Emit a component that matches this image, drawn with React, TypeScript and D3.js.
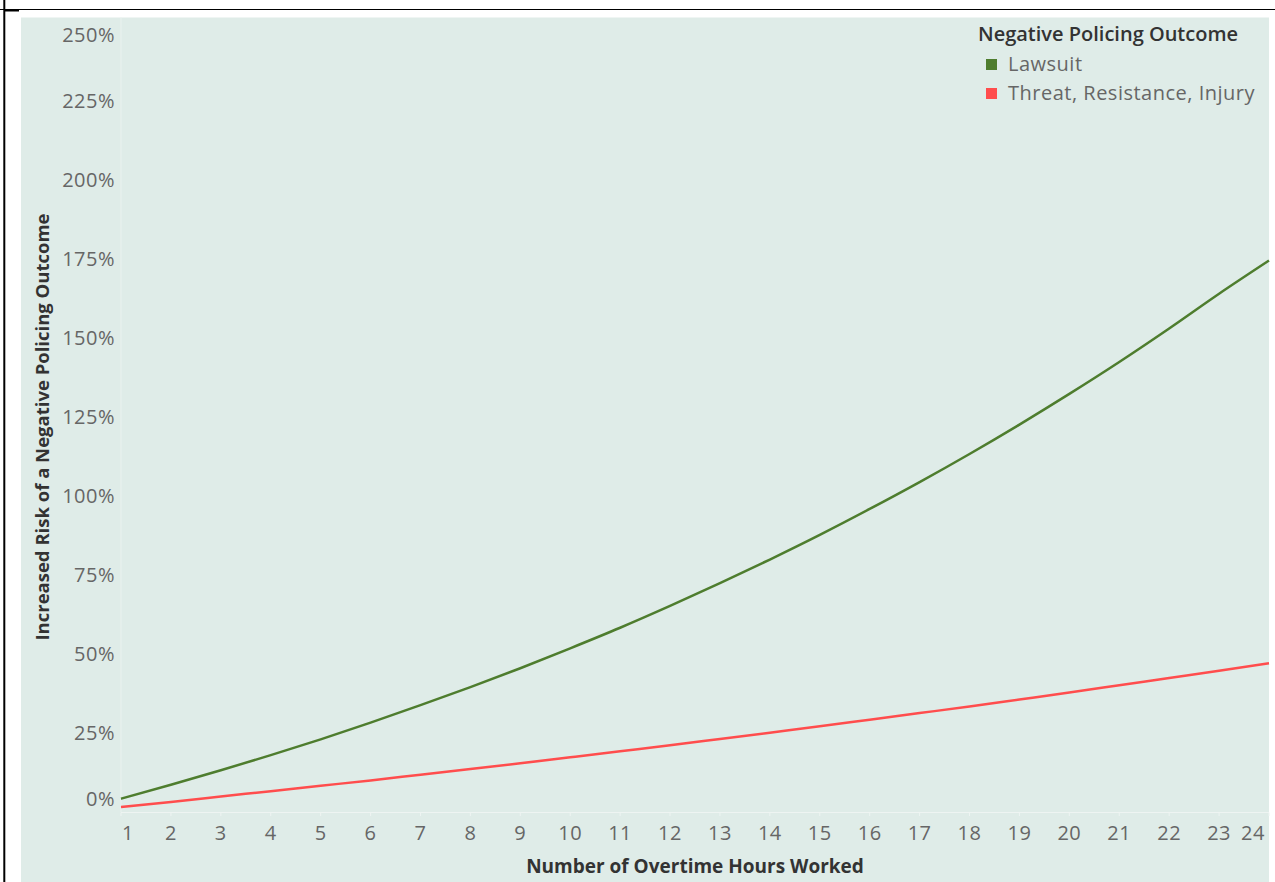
import React from "react";
import * as d3 from "d3";

const hours = [1, 2, 3, 4, 5, 6, 7, 8, 9, 10, 11, 12, 13, 14, 15, 16, 17, 18, 19, 20, 21, 22, 23, 24];
const lawsuit = [4.2, 8.6, 13.2, 18.0, 23.0, 28.3, 33.8, 39.5, 45.5, 51.8, 58.3, 65.2, 72.4, 79.9, 87.7, 95.9, 104.4, 113.3, 122.6, 132.3, 142.4, 153.0, 164.0, 174.5];
const threat = [1.6, 3.2, 4.9, 6.6, 8.3, 10.0, 11.8, 13.6, 15.4, 17.3, 19.2, 21.1, 23.1, 25.1, 27.1, 29.2, 31.3, 33.4, 35.6, 37.8, 40.1, 42.4, 44.7, 47.1];
const yTicks = [0, 25, 50, 75, 100, 125, 150, 175, 200, 225, 250];
const seriesNames = ["Lawsuit", "Threat, Resistance, Injury"];
const seriesColors = ["#4E7D2E", "#FF4D4D"];
const legendTitle = "Negative Policing Outcome";
const xTitle = "Number of Overtime Hours Worked";
const yTitle = "Increased Risk of a Negative Policing Outcome";

const W = 1275;
const H = 882;
const FONT = "'Open Sans', 'Noto Sans', sans-serif";

export default function App() {
  const x = d3.scaleLinear().domain([1, 24]).range([121, 1269]);
  const y = d3.scaleLinear().domain([0, 250]).range([812, 22]);
  const line = d3
    .line<number>()
    .x((_, i) => x(hours[i]))
    .y((d) => y(d))
    .curve(d3.curveMonotoneX);
  const series = [lawsuit, threat];

  const yLabelPos = (t: number) => {
    if (t === 0) return y(t) - 13;
    if (t === 250) return y(t) + 13;
    return y(t);
  };
  const xLabelPos = (h: number) => {
    if (h === 1) return x(h) + 7;
    if (h === 24) return x(h) - 16;
    return x(h);
  };

  return (
    <svg
      width={W}
      height={H}
      style={{ position: "absolute", left: 0, top: 0, background: "#ffffff" }}
    >
      {/* panel background */}
      <rect x={21} y={17.5} width={1248} height={H - 17.5} fill="#DFECE8" />
      {/* frame */}
      <line x1={0} x2={W} y1={9.5} y2={9.5} stroke="#000" strokeWidth={1.2} />
      <line x1={4.3} x2={4.3} y1={0} y2={H} stroke="#000" strokeWidth={2} />
      <line x1={4} x2={19} y1={10.5} y2={10.5} stroke="#000" strokeWidth={2} />

      {/* axis lines */}
      <line x1={x(1)} x2={x(1)} y1={17.5} y2={y(0)} stroke="#EAF2EF" strokeWidth={1} />
      <line x1={x(1)} x2={x(24)} y1={y(0) + 0.5} y2={y(0) + 0.5} stroke="#EEF4F2" strokeWidth={1} />
      {hours.map((h) => (
        <line key={"xt" + h} x1={x(h)} x2={x(h)} y1={y(0) + 0.5} y2={y(0) + 4} stroke="#EEF4F2" strokeWidth={1} />
      ))}

      {/* y tick labels */}
      {yTicks.map((t) => (
        <text
          key={"yl" + t}
          x={115}
          y={yLabelPos(t)}
          dy="0.35em"
          textAnchor="end"
          fontFamily={FONT}
          fontSize={20}
          letterSpacing={0.5}
          fill="#666666"
        >
          {t + "%"}
        </text>
      ))}

      {/* x tick labels */}
      {hours.map((h) => (
        <text
          key={"xl" + h}
          x={xLabelPos(h)}
          y={840}
          textAnchor="middle"
          fontFamily={FONT}
          fontSize={20}
          letterSpacing={0.5}
          fill="#666666"
        >
          {h}
        </text>
      ))}

      {/* axis titles */}
      <text
        x={695}
        y={873}
        textAnchor="middle"
        fontFamily={FONT}
        fontWeight="bold"
        fontSize={19}
        fill="#333333"
      >
        {xTitle}
      </text>
      <text
        transform={`translate(49, 427) rotate(-90)`}
        textAnchor="middle"
        fontFamily={FONT}
        fontWeight="bold"
        fontSize={18.5}
        fill="#333333"
      >
        {yTitle}
      </text>

      {/* lines */}
      {series.map((s, i) => (
        <path key={"s" + i} d={line(s) || ""} fill="none" stroke={seriesColors[i]} strokeWidth={2.5} />
      ))}

      {/* legend */}
      <text x={978} y={41} fontFamily={FONT} fontSize={20} fontWeight={600} fill="#333333">
        {legendTitle}
      </text>
      {seriesNames.map((n, i) => (
        <g key={"lg" + i}>
          <rect x={986} y={59 + i * 29} width={11} height={11} fill={seriesColors[i]} />
          <text x={1008} y={71 + i * 29} fontFamily={FONT} fontSize={20} letterSpacing={0.5} fill="#666666">
            {n}
          </text>
        </g>
      ))}
    </svg>
  );
}
